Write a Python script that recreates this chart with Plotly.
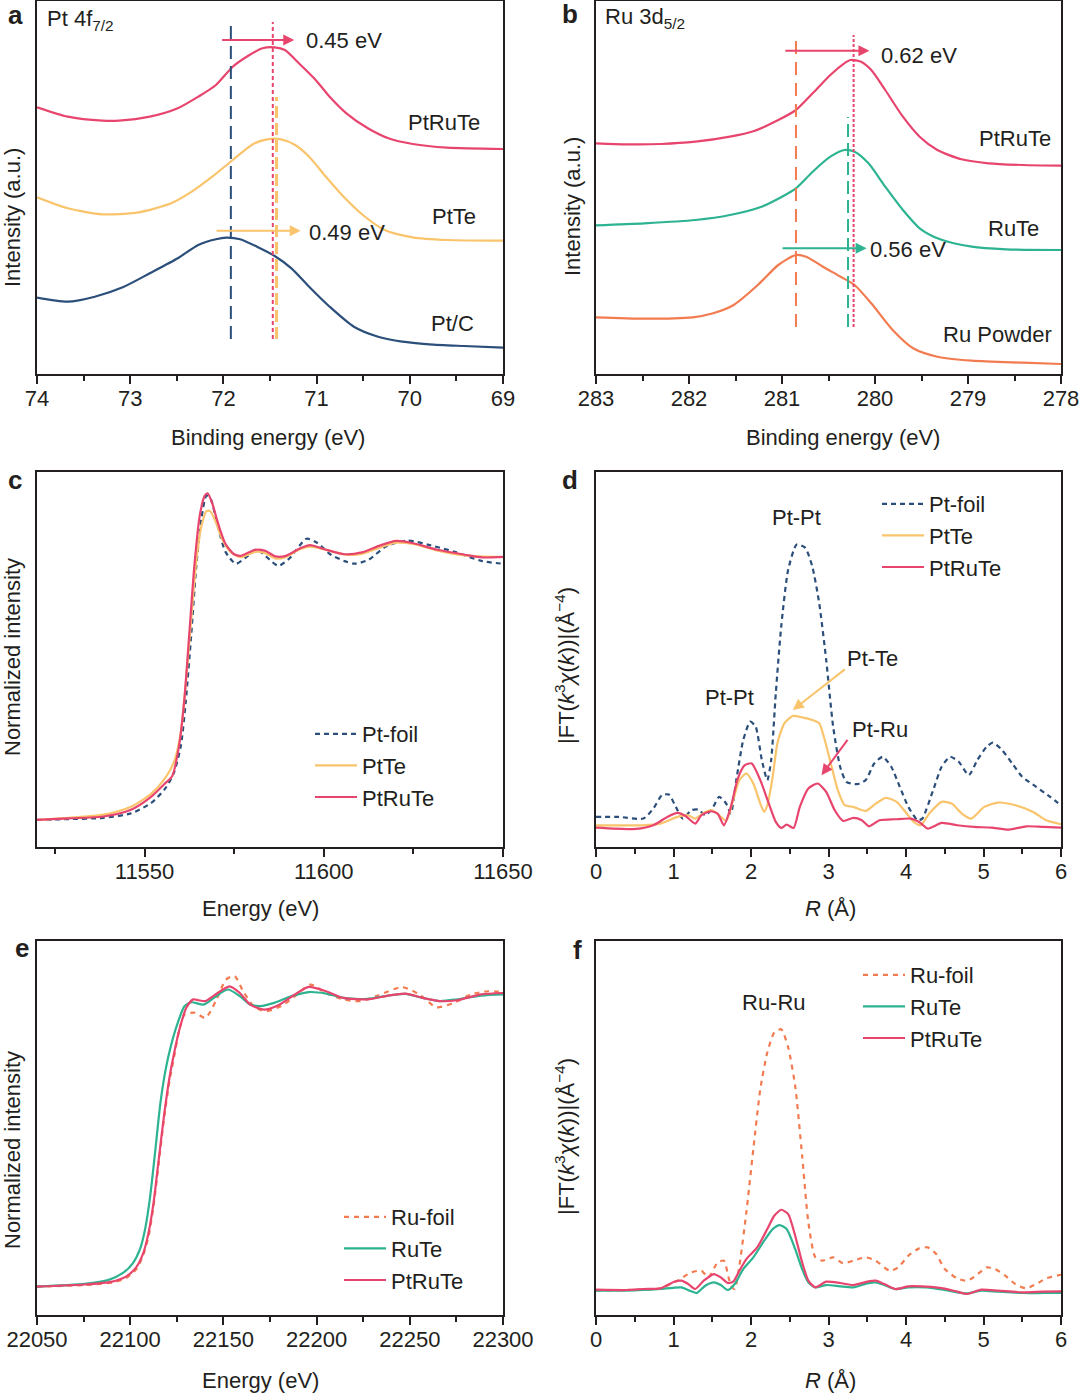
import plotly.graph_objects as go

W, H = 1080, 1396
FONT = "Liberation Sans, Arial, sans-serif"
FS = 22
INK = "#231F20"
PINK = "#E8456E"
YELLOW = "#F9C46B"
NAVY = "#2B4F7A"
TEAL = "#2DB391"
ORANGE = "#F27B50"

# ---------------- panel a : Pt 4f7/2 XPS ----------------
a_ptrute_be = [74, 73.67, 73.30, 73.12, 72.79, 72.49, 72.27, 72.08, 71.90, 71.75, 71.58, 71.45, 71.34,
               71.19, 71.01, 70.86, 70.68, 70.45, 70.23, 69.97, 69.60, 69.00]
a_ptrute_int = [266.7, 257.3, 253.3, 253.3, 257.3, 265.7, 277.3, 289, 307.3, 317.3, 325.7, 326.7, 324,
                310.7, 294, 277.3, 260.7, 245.7, 235.7, 230, 226.3, 225]
a_ptte_be = [74, 73.67, 73.30, 72.93, 72.56, 72.34, 72.12, 71.90, 71.68, 71.53, 71.38, 71.23, 71.08,
             70.90, 70.71, 70.49, 70.27, 69.97, 69.60, 69.00]
a_ptte_int = [176.7, 165.7, 159.7, 161.3, 170.7, 182.3, 197.3, 214, 230, 234.7, 234.7, 229, 217.3,
              197.3, 177.3, 158, 144, 136.7, 134, 133.3]
a_ptc_be = [74, 73.67, 73.38, 73.08, 72.79, 72.49, 72.27, 72.08, 71.97, 71.82, 71.64, 71.45, 71.27,
            71.08, 70.86, 70.60, 70.34, 70.08, 69.79, 69.42, 69.00]
a_ptc_int = [76.3, 72.3, 77.3, 86.7, 100.7, 115.7, 129, 134.7, 136.3, 134.7, 127.3, 118, 105.7,
             87.3, 67.3, 47.3, 37.3, 32.3, 29.7, 28, 26.3]
a_peak_ptc, a_peak_ptte, a_peak_ptrute = 71.92, 71.43, 71.47
a_ticks = [74, 73, 72, 71, 70, 69]

# ---------------- panel b : Ru 3d5/2 XPS ----------------
b_ptrute_be = [283, 282.67, 282.30, 281.93, 281.56, 281.30, 281.04, 280.85, 280.67, 280.48, 280.33,
               280.26, 280.15, 280.04, 279.89, 279.70, 279.52, 279.33, 279.07, 278.78, 278.41, 278]
b_ptrute_int = [230.7, 229.7, 230, 232.3, 237.3, 243, 254, 264, 280.7, 299, 310.7, 314, 312.3, 304,
                284, 257.3, 237.3, 224, 214.7, 210.7, 209, 208.3]
b_rute_be = [283, 282.48, 281.93, 281.56, 281.22, 281.00, 280.85, 280.67, 280.48, 280.33, 280.22,
             280.07, 279.89, 279.70, 279.52, 279.30, 278.96, 278.59, 278]
b_rute_int = [148.7, 150.7, 154, 159, 167.3, 177.3, 185.7, 202.3, 217.3, 224, 222.3, 210.7, 187.3,
              164, 145.7, 134.7, 127.3, 124.7, 124]
b_ru_be = [283, 282.48, 281.96, 281.74, 281.52, 281.26, 281.04, 280.85, 280.74, 280.56, 280.37,
           280.22, 280.04, 279.81, 279.59, 279.33, 278.96, 278.41, 278]
b_ru_int = [56.7, 55.3, 56.7, 60.7, 69, 89, 109, 119, 117.3, 107.3, 97.3, 89, 70.7, 44, 25.7, 17.3,
            13.3, 11.3, 10]
b_peak_ru, b_peak_rute, b_peak_ptrute = 280.85, 280.29, 280.23
b_ticks = [283, 282, 281, 280, 279, 278]

# ---------------- panel c : Pt L3 XANES ----------------
c_ptfoil_e = [11520, 11528.8, 11538.5, 11546.2, 11551.9, 11555.8, 11558.2, 11560.1, 11561.5, 11563.0,
              11564.4, 11565.9, 11567.3, 11568.5, 11570.2, 11572.6, 11575.5, 11578.4, 11581.3, 11584.1,
              11587.3, 11590.4, 11595.2, 11598.1, 11601.9, 11605.8, 11608.7, 11612.5, 11617.3, 11623.1,
              11629.8, 11636.5, 11644.2, 11650]
c_ptfoil_mu = [0, 0.003, 0.008, 0.025, 0.065, 0.12, 0.18, 0.28, 0.45, 0.70, 0.96, 1.15, 1.235, 1.22,
               1.13, 1.02, 0.975, 1.0, 1.03, 1.0, 0.967, 0.995, 1.07, 1.055, 1.01, 0.985, 0.975, 0.99,
               1.04, 1.063, 1.045, 1.02, 0.985, 0.975]
c_ptte_e = [11520, 11528.8, 11538.5, 11546.2, 11551.9, 11555.8, 11558.2, 11560.1, 11561.5, 11563.0,
            11564.4, 11565.9, 11567.3, 11568.3, 11569.7, 11571.6, 11574.0, 11576.9, 11580.8, 11583.7,
            11586.5, 11589.4, 11593.3, 11596.2, 11600.0, 11605.8, 11610.6, 11615.4, 11620.2, 11625.0,
            11631.7, 11639.4, 11650]
c_ptte_mu = [0, 0.008, 0.02, 0.05, 0.10, 0.16, 0.22, 0.33, 0.52, 0.76, 0.98, 1.12, 1.175, 1.175, 1.14,
             1.07, 1.02, 1.0, 1.02, 1.015, 0.995, 1.0, 1.03, 1.04, 1.03, 1.01, 1.012, 1.035, 1.055, 1.05,
             1.025, 1.007, 1.0]
c_ptrute_e = [11520, 11528.8, 11538.5, 11546.2, 11551.9, 11555.8, 11557.7, 11559.6, 11561.1, 11562.5,
              11563.9, 11565.4, 11566.8, 11567.6, 11568.8, 11570.7, 11572.6, 11575.0, 11576.9, 11580.8,
              11583.7, 11586.5, 11589.4, 11593.3, 11596.2, 11600.0, 11605.8, 11610.6, 11615.4, 11620.2,
              11625.0, 11631.7, 11639.4, 11644.2, 11650]
c_ptrute_mu = [0, 0.006, 0.013, 0.039, 0.089, 0.140, 0.166, 0.28, 0.458, 0.712, 0.967, 1.158, 1.234,
               1.243, 1.208, 1.120, 1.050, 1.011, 1.005, 1.028, 1.024, 1.003, 1.005, 1.033, 1.046, 1.031,
               1.011, 1.018, 1.043, 1.062, 1.053, 1.028, 1.009, 0.999, 1.001]
c_ticks = [11550, 11600, 11650]

# ---------------- panel d : Pt FT-EXAFS ----------------
d_ptfoil_r = [0, 0.30, 0.61, 0.74, 0.85, 0.94, 1.03, 1.12, 1.23, 1.32, 1.41, 1.50, 1.59, 1.68, 1.74,
              1.81, 1.90, 1.99, 2.06, 2.14, 2.21, 2.26, 2.32, 2.39, 2.48, 2.59, 2.70, 2.79, 2.88, 2.97,
              3.06, 3.15, 3.23, 3.37, 3.48, 3.59, 3.70, 3.81, 3.92, 4.03, 4.15, 4.21, 4.35, 4.46, 4.57,
              4.68, 4.81, 4.92, 5.04, 5.12, 5.24, 5.37, 5.50, 5.68, 5.86, 6.0]
d_ptfoil_ft = [0.90, 0.90, 0.85, 1.15, 1.55, 1.57, 1.20, 0.85, 1.10, 1.12, 0.95, 1.15, 1.50, 1.30, 1.00,
               2.00, 3.20, 3.75, 3.60, 2.60, 2.00, 2.60, 4.60, 6.60, 8.30, 9.05, 8.95, 8.40, 7.30, 5.60,
               3.60, 2.40, 1.95, 1.88, 2.00, 2.50, 2.70, 2.40, 1.80, 1.20, 0.80, 0.85, 1.70, 2.40, 2.70,
               2.55, 2.15, 2.60, 3.00, 3.12, 2.90, 2.50, 2.10, 1.80, 1.50, 1.25]
d_ptte_r = [0, 0.39, 0.61, 0.83, 1.05, 1.19, 1.28, 1.41, 1.50, 1.59, 1.68, 1.77, 1.85, 1.94, 2.03, 2.12,
            2.17, 2.21, 2.28, 2.34, 2.43, 2.54, 2.66, 2.79, 2.88, 2.94, 3.03, 3.12, 3.21, 3.32, 3.48,
            3.61, 3.74, 3.88, 4.01, 4.10, 4.19, 4.30, 4.46, 4.59, 4.72, 4.84, 5.01, 5.19, 5.41, 5.64,
            5.81, 6.0]
d_ptte_ft = [0.65, 0.65, 0.65, 0.70, 0.90, 0.95, 0.85, 1.05, 1.10, 0.95, 0.78, 1.40, 2.00, 2.20, 1.90,
             1.30, 1.05, 1.25, 2.10, 3.10, 3.70, 3.92, 3.88, 3.80, 3.70, 3.30, 2.50, 1.70, 1.25, 1.20,
             1.08, 1.30, 1.47, 1.35, 1.00, 0.75, 0.65, 1.00, 1.35, 1.30, 1.00, 0.85, 1.20, 1.33, 1.25,
             1.05, 0.80, 0.68]
d_ptrute_r = [0, 0.52, 0.74, 0.92, 1.05, 1.16, 1.28, 1.36, 1.48, 1.57, 1.65, 1.74, 1.83, 1.92, 2.01,
              2.12, 2.23, 2.32, 2.39, 2.46, 2.55, 2.63, 2.74, 2.86, 2.97, 3.08, 3.19, 3.32, 3.43, 3.52,
              3.66, 3.86, 4.06, 4.17, 4.28, 4.46, 4.66, 4.88, 5.10, 5.33, 5.55, 5.77, 6.0]
d_ptrute_ft = [0.58, 0.54, 0.65, 0.90, 1.02, 0.92, 0.70, 0.95, 1.07, 1.00, 0.65, 1.20, 2.05, 2.45, 2.50,
               2.00, 1.30, 0.75, 0.57, 0.67, 0.57, 1.20, 1.75, 1.90, 1.65, 1.10, 0.78, 0.87, 0.80, 0.62,
               0.80, 0.83, 0.85, 0.75, 0.55, 0.72, 0.65, 0.60, 0.58, 0.52, 0.62, 0.60, 0.58]
r_ticks = [0, 1, 2, 3, 4, 5, 6]

# ---------------- panel e : Ru K XANES ----------------
e_rufoil_e = [22050, 22075.5, 22090.4, 22097.7, 22103.3, 22107.0, 22109.8, 22112.5, 22115.3, 22118.1,
              22120.9, 22123.6, 22126.4, 22129.2, 22134.8, 22140.3, 22145.9, 22151.4, 22156.0, 22160.6,
              22166.2, 22172.7, 22181.0, 22188.4, 22196.7, 22205.1, 22214.3, 22223.6, 22232.8, 22245.8,
              22255.1, 22264.3, 22273.6, 22282.8, 22292.1, 22300]
e_rufoil_mu = [0, 0.005, 0.014, 0.029, 0.060, 0.109, 0.172, 0.276, 0.425, 0.575, 0.701, 0.793, 0.885,
               0.937, 0.943, 0.925, 0.983, 1.057, 1.069, 1.017, 0.966, 0.948, 0.966, 1.000, 1.040, 1.011,
               0.989, 0.983, 1.002, 1.031, 1.006, 0.962, 0.977, 1.006, 1.017, 1.014]
e_rute_e = [22050, 22075.5, 22088.5, 22095.9, 22101.4, 22105.1, 22107.9, 22110.7, 22113.5, 22116.2,
            22119.0, 22121.8, 22125.5, 22129.2, 22132.9, 22139.4, 22144.9, 22152.3, 22158.8, 22164.4,
            22169.9, 22177.3, 22186.6, 22195.8, 22205.1, 22214.3, 22227.3, 22238.4, 22247.6, 22256.9,
            22266.1, 22275.4, 22288.3, 22300]
e_rute_mu = [0, 0.009, 0.023, 0.046, 0.080, 0.126, 0.195, 0.310, 0.471, 0.632, 0.747, 0.828, 0.908,
             0.966, 0.979, 0.971, 0.994, 1.023, 1.000, 0.971, 0.966, 0.977, 1.000, 1.014, 1.009, 0.994,
             0.991, 1.002, 1.008, 0.994, 0.983, 0.989, 1.002, 1.006]
e_ptrute_e = [22050, 22075.5, 22090.4, 22097.7, 22103.3, 22107.0, 22109.8, 22112.5, 22115.3, 22118.1,
              22120.9, 22123.6, 22126.4, 22130.1, 22133.8, 22136.6, 22140.3, 22144.9, 22153.3, 22158.8,
              22164.4, 22171.8, 22179.2, 22188.4, 22195.8, 22205.1, 22214.3, 22227.3, 22238.4, 22247.6,
              22256.9, 22266.1, 22275.4, 22288.3, 22300]
e_ptrute_mu = [0, 0.007, 0.017, 0.034, 0.067, 0.115, 0.184, 0.287, 0.437, 0.586, 0.713, 0.805, 0.885,
               0.960, 0.989, 0.986, 0.983, 1.002, 1.034, 1.011, 0.971, 0.954, 0.968, 1.006, 1.032, 1.017,
               0.994, 0.989, 1.002, 1.009, 0.994, 0.983, 0.986, 1.006, 1.011]
e_ticks = [22050, 22100, 22150, 22200, 22250, 22300]

# ---------------- panel f : Ru FT-EXAFS ----------------
f_rufoil_r = [0, 0.39, 0.61, 0.83, 1.05, 1.23, 1.36, 1.45, 1.57, 1.65, 1.74, 1.79, 1.85, 1.94, 2.03,
              2.12, 2.21, 2.30, 2.39, 2.48, 2.57, 2.66, 2.74, 2.83, 2.92, 3.06, 3.19, 3.32, 3.48, 3.61,
              3.79, 3.90, 4.03, 4.17, 4.28, 4.39, 4.50, 4.66, 4.79, 4.90, 5.04, 5.15, 5.28, 5.41, 5.55,
              5.68, 5.81, 6.0]
f_rufoil_ft = [0.73, 0.75, 0.76, 0.80, 1.03, 1.28, 1.33, 1.13, 1.58, 1.63, 0.88, 0.78, 1.48, 3.08, 4.98,
               6.78, 7.88, 8.48, 8.58, 8.03, 6.88, 4.78, 2.78, 1.73, 1.63, 1.73, 1.55, 1.63, 1.73, 1.63,
               1.33, 1.43, 1.78, 2.00, 2.03, 1.83, 1.38, 1.10, 1.03, 1.18, 1.43, 1.38, 1.18, 0.93, 0.80,
               0.93, 1.10, 1.21]
f_rute_r = [0, 0.39, 0.61, 0.83, 1.10, 1.21, 1.30, 1.41, 1.52, 1.61, 1.70, 1.79, 1.90, 2.03, 2.17,
            2.28, 2.37, 2.46, 2.57, 2.66, 2.74, 2.83, 2.97, 3.15, 3.32, 3.50, 3.61, 3.72, 3.86, 4.03,
            4.26, 4.48, 4.66, 4.79, 4.97, 5.19, 5.50, 5.77, 6.0]
f_rute_ft = [0.73, 0.73, 0.75, 0.78, 0.83, 0.73, 0.66, 0.88, 0.98, 0.90, 0.75, 0.93, 1.38, 1.73, 2.23,
             2.58, 2.70, 2.58, 1.98, 1.38, 0.98, 0.83, 0.90, 0.86, 0.83, 0.95, 0.98, 0.90, 0.78, 0.83,
             0.83, 0.76, 0.68, 0.65, 0.73, 0.70, 0.66, 0.66, 0.66]
f_ptrute_r = [0, 0.39, 0.61, 0.83, 1.01, 1.10, 1.19, 1.28, 1.39, 1.52, 1.61, 1.70, 1.77, 1.85, 1.94,
              2.08, 2.21, 2.30, 2.39, 2.48, 2.57, 2.66, 2.74, 2.83, 2.97, 3.15, 3.32, 3.50, 3.61, 3.72,
              3.86, 4.03, 4.26, 4.48, 4.66, 4.79, 4.97, 5.19, 5.50, 5.77, 6.0]
f_ptrute_ft = [0.76, 0.75, 0.78, 0.80, 1.00, 1.03, 0.93, 0.78, 1.03, 1.23, 1.13, 0.96, 1.00, 1.33, 1.68,
               2.03, 2.58, 2.98, 3.16, 3.03, 2.38, 1.58, 1.03, 0.83, 1.00, 0.96, 0.90, 1.00, 1.03, 0.93,
               0.78, 0.86, 0.85, 0.80, 0.70, 0.63, 0.76, 0.73, 0.68, 0.70, 0.71]

# ---------------- layout helpers ----------------
def px(x):
    return x / W


def py(y):
    return 1 - y / H


COLS = [(37, 503), (596, 1061)]
ROWS = [(1, 374), (472, 847), (941, 1315)]

fig = go.Figure()


def ax_name(i, kind):
    return kind + ("" if i == 1 else str(i))


def add_line(i, x, y, color, name=None, dash="solid", legend=None, width=2.2, smooth=0.7):
    fig.add_trace(go.Scatter(
        x=x, y=y, mode="lines", name=name,
        line=dict(color=color, width=width, dash=dash, shape="spline", smoothing=smooth),
        xaxis=ax_name(i, "x"), yaxis=ax_name(i, "y"),
        showlegend=legend is not None, legend=legend if legend else "legend",
        hoverinfo="skip"))


# a
add_line(1, a_ptrute_be, a_ptrute_int, PINK)
add_line(1, a_ptte_be, a_ptte_int, YELLOW)
add_line(1, a_ptc_be, a_ptc_int, NAVY)
# b
add_line(2, b_ptrute_be, b_ptrute_int, PINK)
add_line(2, b_rute_be, b_rute_int, TEAL)
add_line(2, b_ru_be, b_ru_int, ORANGE)
# c
add_line(3, c_ptfoil_e, c_ptfoil_mu, NAVY, "Pt-foil", "5px,4px", "legend")
add_line(3, c_ptte_e, c_ptte_mu, YELLOW, "PtTe", legend="legend")
add_line(3, c_ptrute_e, c_ptrute_mu, PINK, "PtRuTe", legend="legend")
# d
add_line(4, d_ptfoil_r, d_ptfoil_ft, NAVY, "Pt-foil", "5px,4px", "legend2", smooth=0.6)
add_line(4, d_ptte_r, d_ptte_ft, YELLOW, "PtTe", legend="legend2", smooth=0.6)
add_line(4, d_ptrute_r, d_ptrute_ft, PINK, "PtRuTe", legend="legend2", smooth=0.6)
# e
add_line(5, e_rufoil_e, e_rufoil_mu, ORANGE, "Ru-foil", "5px,5px", "legend3")
add_line(5, e_rute_e, e_rute_mu, TEAL, "RuTe", legend="legend3")
add_line(5, e_ptrute_e, e_ptrute_mu, PINK, "PtRuTe", legend="legend3")
# f
add_line(6, f_rufoil_r, f_rufoil_ft, ORANGE, "Ru-foil", "5px,5px", "legend4", smooth=0.6)
add_line(6, f_rute_r, f_rute_ft, TEAL, "RuTe", legend="legend4", smooth=0.6)
add_line(6, f_ptrute_r, f_ptrute_ft, PINK, "PtRuTe", legend="legend4", smooth=0.6)

# axes
x_specs = [
    dict(range=[74, 69], tickvals=a_ticks, minor=dict(dtick=0.5, tick0=69)),
    dict(range=[283, 278], tickvals=b_ticks, minor=dict(dtick=0.5, tick0=278)),
    dict(range=[11520, 11650], tickvals=c_ticks, minor=dict(dtick=25, tick0=11500)),
    dict(range=[0, 6], tickvals=r_ticks, minor=dict(dtick=0.5, tick0=0)),
    dict(range=[22050, 22300], tickvals=e_ticks, minor=dict(dtick=25, tick0=22050)),
    dict(range=[0, 6], tickvals=r_ticks, minor=dict(dtick=0.5, tick0=0)),
]
y_ranges = [[0, 373], [0, 373], [-0.103, 1.324], [0, 11.22], [-0.098, 1.19], [0, 11.23]]

layout = dict(
    template="none",
    width=W, height=H, margin=dict(l=0, r=0, t=0, b=0, pad=0, autoexpand=False),
    paper_bgcolor="white", plot_bgcolor="white",
    font=dict(family=FONT, size=FS, color=INK),
)
for i in range(1, 7):
    r, c = (i - 1) // 2, (i - 1) % 2
    xs = x_specs[i - 1]
    minor = dict(ticks="outside", ticklen=5, tickwidth=2, tickcolor=INK, **xs["minor"])
    layout[ax_name(i, "xaxis")] = dict(
        domain=[px(COLS[c][0]), px(COLS[c][1])], range=xs["range"], automargin=False,
        anchor=ax_name(i, "y"), tickmode="array", tickvals=xs["tickvals"],
        ticks="outside", ticklen=8, tickwidth=2, tickcolor=INK, ticklabelstandoff=-4,
        showline=True, linewidth=2, linecolor=INK, mirror=True,
        showgrid=False, zeroline=False, minor=minor,
        tickfont=dict(family=FONT, size=FS, color=INK),
        tickformat="d" if i in (3, 5) else None,
    )
    layout[ax_name(i, "yaxis")] = dict(
        domain=[py(ROWS[r][1]), py(ROWS[r][0])], range=y_ranges[i - 1], automargin=False,
        anchor=ax_name(i, "x"), showticklabels=False, ticks="",
        showline=True, linewidth=2, linecolor=INK, mirror=True,
        showgrid=False, zeroline=False,
    )


def legend_spec(x0, ytop):
    return dict(x=px(x0), y=py(ytop), xanchor="left", yanchor="top",
                bgcolor="rgba(0,0,0,0)", borderwidth=0, itemwidth=42,
                font=dict(family=FONT, size=FS, color=INK), tracegroupgap=0,
                itemclick=False, itemdoubleclick=False)


layout["legend"] = legend_spec(310, 713)
layout["legend2"] = legend_spec(877, 483)
layout["legend3"] = legend_spec(339, 1196)
layout["legend4"] = legend_spec(858, 954)

fig.update_layout(**layout)

ann = []
shapes = []


def text(x, y, s, xref="paper", yref="paper", xanchor="center", size=FS, bold=False, angle=0, yanchor="middle"):
    ann.append(dict(x=x, y=y, xref=xref, yref=yref, text=s, showarrow=False, xanchor=xanchor,
                    yanchor=yanchor, textangle=angle,
                    font=dict(family=FONT, size=size, color=INK,
                              weight="bold" if bold else "normal")))


def arrow(i, x0, y0, x1, y1, color):
    ann.append(dict(x=x1, y=y1, ax=x0, ay=y0, xref=ax_name(i, "x"), yref=ax_name(i, "y"),
                    axref=ax_name(i, "x"), ayref=ax_name(i, "y"), text="", showarrow=True,
                    arrowhead=2, arrowsize=1.1, arrowwidth=2, arrowcolor=color, standoff=0))


def vline(i, x, y0, y1, color, dash, width=2):
    shapes.append(dict(type="line", xref=ax_name(i, "x"), yref=ax_name(i, "y"), x0=x, x1=x, y0=y0, y1=y1,
                       line=dict(color=color, width=width, dash=dash)))


# panel letters
for (lx, ly, s) in [(15, 15, "a"), (570, 14, "b"), (15, 480, "c"), (570, 480, "d"), (22, 948, "e"), (577, 950, "f")]:
    text(px(lx), py(ly), s, size=26, bold=True)

# axis titles
for (cx, cy, s) in [(268, 437, "Binding energy (eV)"), (843, 437, "Binding energy (eV)"),
                    (260, 908, "Energy (eV)"), (830, 908, "<i>R</i> (Å)"),
                    (260, 1380, "Energy (eV)"), (830, 1380, "<i>R</i> (Å)")]:
    text(px(cx), py(cy), s)
FT_TITLE = "|FT(<i>k</i><sup>3</sup><i>χ</i>(<i>k</i>))|(Å<sup>−4</sup>)"
for (cx, cy, s) in [(12, 218, "Intensity (a.u.)"), (573, 207, "Intensity (a.u.)"),
                    (12, 657, "Normalized intensity"), (565, 666, FT_TITLE),
                    (12, 1150, "Normalized intensity"), (565, 1137, FT_TITLE)]:
    text(px(cx), py(cy), s, angle=-90)

# panel a annotations
text(px(45), py(20), "Pt 4f<sub>7/2</sub>", xanchor="left")
vline(1, a_peak_ptc, 35, 351, NAVY, "13px,7px")
vline(1, a_peak_ptrute, 35, 352, PINK, "4px,3px")
vline(1, a_peak_ptte, 35, 277, YELLOW, "12px,5px", width=3)
arrow(1, 72.03, 334, 71.24, 334, PINK)
arrow(1, 72.09, 143.3, 71.17, 143.3, YELLOW)
text(71.14, 334, "0.45 eV", "x", "y", xanchor="left")
text(71.10, 142, "0.49 eV", "x", "y", xanchor="left")
text(69.23, 252, "PtRuTe", "x", "y", xanchor="right")
text(69.27, 158, "PtTe", "x", "y", xanchor="right")
text(69.29, 51, "Pt/C", "x", "y", xanchor="right")

# panel b annotations
text(px(603), py(18), "Ru 3d<sub>5/2</sub>", xanchor="left")
vline(2, b_peak_ru, 47, 339, ORANGE, "13px,8px")
vline(2, b_peak_rute, 47, 257, TEAL, "13px,6px")
vline(2, b_peak_ptrute, 47, 339, PINK, "3px,2px")
arrow(2, 280.98, 323.3, 280.06, 323.3, PINK)
arrow(2, 281.01, 125.7, 280.09, 125.7, TEAL)
text(279.96, 319, "0.62 eV", "x2", "y2", xanchor="left")
text(280.07, 125, "0.56 eV", "x2", "y2", xanchor="left")
text(278.09, 236, "PtRuTe", "x2", "y2", xanchor="right")
text(278.22, 146, "RuTe", "x2", "y2", xanchor="right")
text(278.07, 40, "Ru Powder", "x2", "y2", xanchor="right")

# panel d annotations
text(2.59, 9.85, "Pt-Pt", "x4", "y4")
text(1.72, 4.48, "Pt-Pt", "x4", "y4")
text(3.57, 5.65, "Pt-Te", "x4", "y4")
text(3.66, 3.52, "Pt-Ru", "x4", "y4")
arrow(4, 3.23, 5.35, 2.54, 4.10, YELLOW)
arrow(4, 3.26, 3.25, 2.91, 2.15, PINK)

# panel f annotation
text(2.30, 9.38, "Ru-Ru", "x6", "y6")

fig.update_layout(annotations=ann, shapes=shapes)
fig.write_html("out.html", config={"displayModeBar": False},
               post_script="document.body.style.margin='0';document.body.style.overflow='hidden';")
